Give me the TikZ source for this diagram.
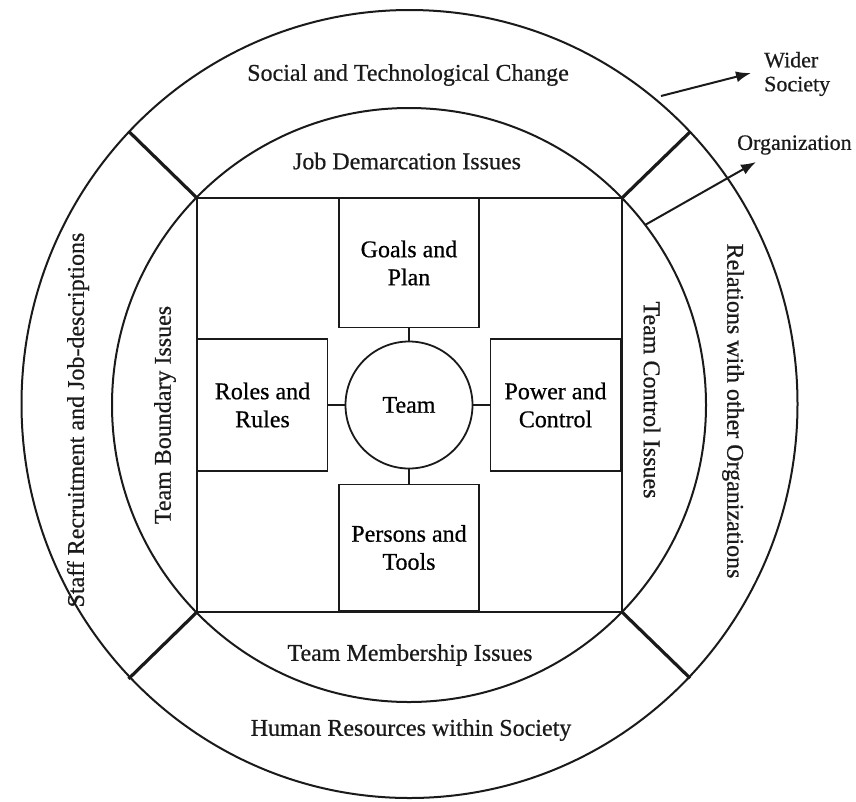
\documentclass[tikz,border=0pt]{standalone}
\usepackage{fontspec}
\setmainfont{Liberation Serif}
\newfontfamily\diagfont{Liberation Serif}[FakeBold=0.6]
\usetikzlibrary{arrows.meta,calc,positioning}
\definecolor{RingInk}{HTML}{1A1A1A}
\tikzset{
  >={Latex[length=15pt,width=11pt]},
  ring/.style={draw=RingInk,line width=2pt},
  divider/.style={draw=RingInk,line width=3.2pt},
  flow/.style={->,draw=RingInk,line width=2pt},
  box/.style={draw=RingInk,line width=1.8pt,align=center,inner sep=2pt,
    outer sep=0pt,font=\diagfont\fontsize{24}{28}\selectfont},
  ringtext/.style={inner sep=0pt,text=RingInk,font=\diagfont\fontsize{24}{28}\selectfont},
  sidetext/.style={inner sep=0pt,align=left,text=RingInk,font=\diagfont\fontsize{22}{24}\selectfont}
}
\begin{document}
\begin{tikzpicture}[x=1pt,y=-1pt]
  \useasboundingbox (0,0) rectangle (856,801);
  \coordinate (ctr) at (409,405);
  \coordinate (sqNW) at (197,198);
  \coordinate (sqNE) at (622,198);
  \coordinate (sqSW) at (197,612);
  \coordinate (sqSE) at (622,612);

  % rings and square
  \draw[ring] (409.5,404) ellipse [x radius=388pt, y radius=394pt];
  \draw[ring] (ctr) circle [radius=297pt];
  \draw[ring,line width=1.5pt] (sqNW) rectangle (sqSE);
  \foreach \c in {sqNW,sqNE,sqSW,sqSE}
    \draw[divider] (\c) -- ($(ctr)!392pt!(\c)$);

  % core
  \node[circle,draw=RingInk,line width=1.8pt,minimum size=127pt,inner sep=0pt,
    outer sep=0pt,font=\diagfont\fontsize{24}{28}\selectfont] (team) at (ctr) {Team};
  \node[box,minimum width=140pt,minimum height=129pt,above=14pt of team] (goals) {Goals and\\Plan};
  \node[box,minimum width=130pt,minimum height=132pt,left=18pt of team] (roles) {Roles and\\Rules};
  \node[box,minimum width=130pt,minimum height=132pt,right=18pt of team] (power) {Power and\\Control};
  \node[box,minimum width=140pt,minimum height=126pt,below=16pt of team] (persons) {Persons and\\Tools};
  \draw[ring] (team) -- (goals);
  \draw[ring] (team) -- (roles);
  \draw[ring] (team) -- (power);
  \draw[ring] (team) -- (persons);

  % ring labels
  \node[ringtext] (social) at (408,75) {Social and Technological Change};
  \node[ringtext] (demarc) at (407,161) {Job Demarcation Issues};
  \node[ringtext,rotate=90] (boundary) at (165,415) {Team Boundary Issues};
  \node[ringtext,rotate=-90] (control) at (652,400) {Team Control Issues};
  \node[ringtext,rotate=90] (staff) at (78,420) {Staff Recruitment and Job-descriptions};
  \node[ringtext,rotate=-90] (relations) at (733,411) {Relations with other Organizations};
  \node[ringtext] (member) at (410,655) {Team Membership Issues};
  \node[ringtext] (human) at (411,730) {Human Resources within Society};

  % outside
  \node[sidetext,anchor=west] (wider) at (764,74) {Wider\\Society};
  \node[sidetext,anchor=west] (org) at (737,145) {Organization};
  \coordinate (wsStart) at (661,96);
  \coordinate (wsEnd) at (751,73);
  \coordinate (orgStart) at (645,225);
  \coordinate (orgEnd) at (756,162);
  \draw[flow] (wsStart) -- (wsEnd);
  \draw[flow] (orgStart) -- (orgEnd);
\end{tikzpicture}
\end{document}
